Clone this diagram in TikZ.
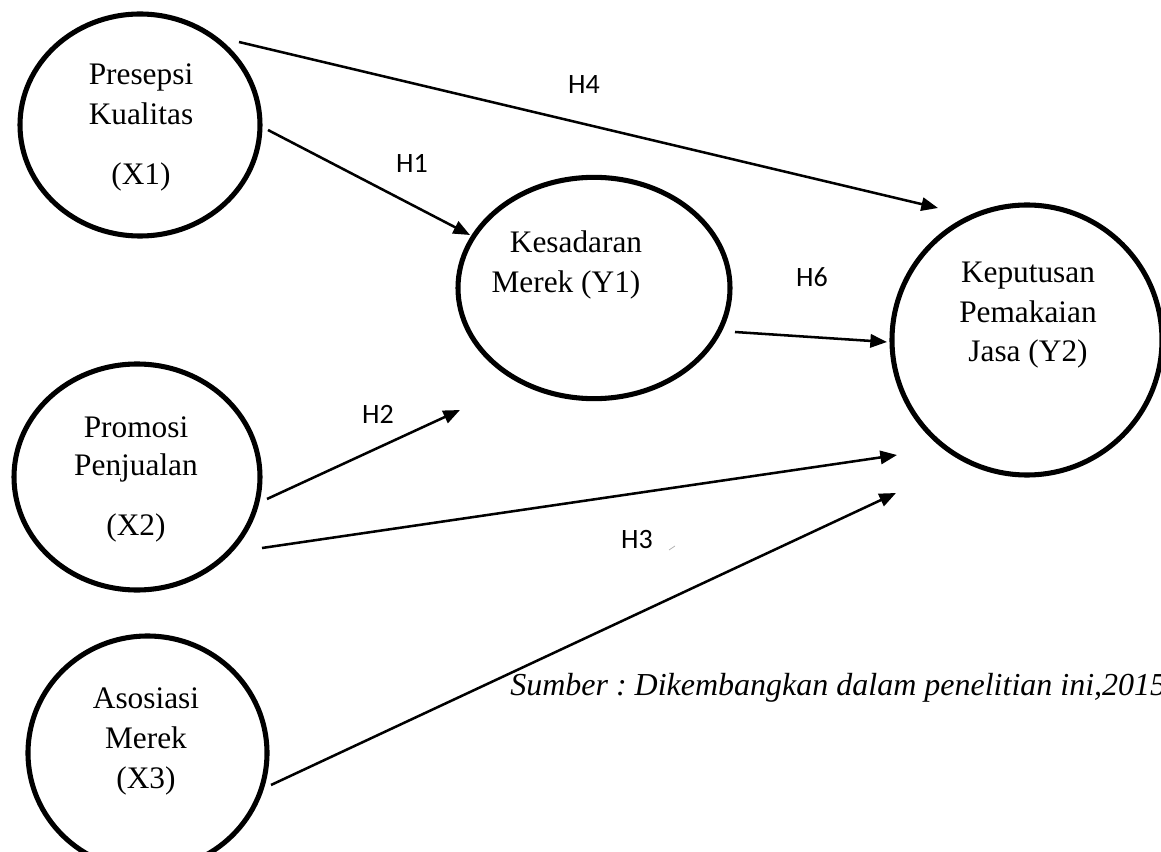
\documentclass[tikz,border=0pt]{standalone}
\usepackage{fontspec}
\setmainfont{Liberation Serif}
\newfontfamily\labfont{Carlito}
\usetikzlibrary{arrows.meta,shapes.geometric}
\frenchspacing
\begin{document}
\begin{tikzpicture}[x=0.75pt,y=-0.75pt,
  construct/.style={draw,line width=3.8pt,ellipse,inner sep=0pt},
  ctext/.style={anchor=base,font=\fontsize{23.5}{28}\selectfont,inner sep=0pt},
  hlabel/.style={font=\labfont\fontsize{21}{25}\selectfont,inner sep=0pt},
  link/.style={line width=1.9pt,-{Triangle[length=12.5pt,width=10pt]}}]
\useasboundingbox (0,0) rectangle (1161,852);

% constructs
\node[construct,minimum width=180pt,minimum height=166.5pt] (x1) at (140,125) {};
\node[construct,minimum width=184.5pt,minimum height=169.5pt] (x2) at (137,477) {};
\node[construct,minimum width=179.25pt,minimum height=175.5pt] (x3) at (147.5,753) {};
\node[construct,minimum width=204pt,minimum height=166pt] (y1) at (594,288) {};
\node[construct,minimum width=202.5pt,minimum height=202.5pt] (y2) at (1027,340) {};

% texts
\node[ctext] (x1a) at (141,85) {Presepsi};
\node[ctext] (x1b) at (141,125) {Kualitas};
\node[ctext] (x1c) at (141,185) {(X1)};
\node[ctext] (x2a) at (136,437) {Promosi};
\node[ctext] (x2b) at (136,475) {Penjualan};
\node[ctext] (x2c) at (136,535) {(X2)};
\node[ctext] (x3a) at (146,708) {Asosiasi};
\node[ctext] (x3b) at (146,748) {Merek};
\node[ctext] (x3c) at (146,788) {(X3)};
\node[ctext] (y1a) at (576,253) {Kesadaran};
\node[ctext] (y1b) at (566,293) {Merek (Y1)};
\node[ctext] (y2a) at (1028,283) {Keputusan};
\node[ctext] (y2b) at (1028,323) {Pemakaian};
\node[ctext] (y2c) at (1028,362) {Jasa (Y2)};

% connector ends
\coordinate (h4s) at (239,42);   \coordinate (h4e) at (938,208);
\coordinate (h1s) at (268,130);  \coordinate (h1e) at (470,235);
\coordinate (h6s) at (735,332);  \coordinate (h6e) at (887,342);
\coordinate (h2s) at (267,499);  \coordinate (h2e) at (460,410);
\coordinate (h3s) at (262,548);  \coordinate (h3e) at (897,455);
\coordinate (h5s) at (271,785);  \coordinate (h5e) at (896,493);

\draw[link] (h4s) -- (h4e);
\draw[link] (h1s) -- (h1e);
\draw[link] (h6s) -- (h6e);
\draw[link] (h2s) -- (h2e);
\draw[link] (h3s) -- (h3e);
\draw[link] (h5s) -- (h5e);

% labels
\node[hlabel] (l4) at (584,85) {H4};
\node[hlabel] (l1) at (412,163) {H1};
\node[hlabel] (l6) at (812,277) {H6};
\node[hlabel] (l2) at (378,414) {H2};
\node[hlabel] (l3) at (637,540) {H3};
\draw[gray!60,line width=0.6pt] (669,550) -- (675,546);

\node[anchor=base west,inner sep=0pt,font=\itshape\fontsize{24}{28}\selectfont] (src) at (510,695)
  {Sumber : Dikembangkan dalam penelitian ini,2015};
\end{tikzpicture}
\end{document}
